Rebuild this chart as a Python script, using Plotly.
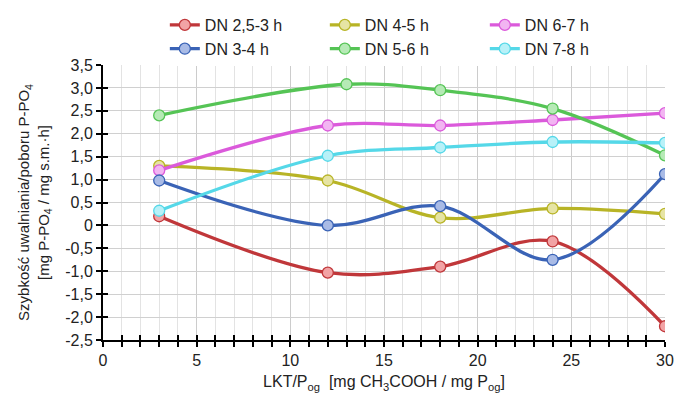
import plotly.graph_objects as go

x_std = [3, 12, 18, 24, 30]
x_green = [3, 13, 18, 24, 30]

names = ["DN 2,5-3 h", "DN 4-5 h", "DN 6-7 h", "DN 3-4 h", "DN 5-6 h", "DN 7-8 h"]
red_vals = [0.2, -1.03, -0.9, -0.35, -2.2]
olive_vals = [1.3, 0.98, 0.17, 0.37, 0.25]
magenta_vals = [1.2, 2.18, 2.18, 2.3, 2.45]
blue_vals = [0.98, 0.0, 0.42, -0.75, 1.12]
green_vals = [2.4, 3.08, 2.95, 2.55, 1.53]
cyan_vals = [0.32, 1.52, 1.7, 1.82, 1.8]

y_ticks = [3.5, 3.0, 2.5, 2.0, 1.5, 1.0, 0.5, 0, -0.5, -1.0, -1.5, -2.0, -2.5]
y_tick_text = ["3,5", "3,0", "2,5", "2,0", "1,5", "1,0", "0,5", "0", "-0,5", "-1,0", "-1,5", "-2,0", "-2,5"]
x_ticks = [0, 5, 10, 15, 20, 25, 30]

series = [
    (names[0], x_std, red_vals, "#c0373a", "#f2a3a5"),
    (names[1], x_std, olive_vals, "#b8b426", "#e6e4a4"),
    (names[2], x_std, magenta_vals, "#db5adb", "#f2b5f2"),
    (names[3], x_std, blue_vals, "#3a63b6", "#a9bbe6"),
    (names[4], x_green, green_vals, "#55c455", "#b6eab6"),
    (names[5], x_std, cyan_vals, "#55d8e8", "#b8f1f8"),
]

fig = go.Figure()
for name, xs, ys, lc, fc in series:
    fig.add_trace(go.Scatter(
        x=xs, y=ys, name=name, mode="lines+markers",
        line=dict(color=lc, width=3.3, shape="spline", smoothing=1.0),
        marker=dict(size=11, color=fc, line=dict(color=lc, width=1.3)),
    ))

font = "Liberation Sans, Arial, sans-serif"
fig.update_layout(
    width=676, height=393,
    margin=dict(l=95, r=19, t=57, b=61, autoexpand=False),
    paper_bgcolor="white", plot_bgcolor="white",
    font=dict(family=font, size=16, color="#222"),
    showlegend=True,
    legend=dict(
        orientation="h", xref="container", yref="container",
        x=0.232, y=1.0, xanchor="left", yanchor="top",
        entrywidth=115, entrywidthmode="pixels",
        font=dict(family=font, size=16, color="#222"), itemwidth=30,
        tracegroupgap=0,
    ),
    xaxis=dict(
        range=[0, 30], tickvals=x_ticks, ticks="outside", ticklen=5, tickwidth=1.5,
        tickcolor="black", showline=True, linecolor="black", linewidth=2,
        showgrid=True, gridcolor="#cccccc", gridwidth=1, zeroline=False,
        minor=dict(dtick=1, ticks="outside", ticklen=5, tickwidth=1.5, tickcolor="black",
                   showgrid=True, gridcolor="#e3e3e3", gridwidth=1),
        title=dict(text="LKT/P<sub>og</sub>  [mg CH<sub>3</sub>COOH / mg P<sub>og</sub>]",
                   font=dict(size=16), standoff=8),
        tickfont=dict(size=16),
    ),
    yaxis=dict(
        range=[-2.5, 3.5], tickvals=y_ticks, ticktext=y_tick_text, ticks="outside",
        ticklen=5, tickwidth=1.5, tickcolor="black", showline=True, linecolor="black",
        linewidth=2, showgrid=True, gridcolor="#d0d0d0", gridwidth=1, zeroline=False,
        title=dict(text="Szybkość uwalniania/poboru P-PO<sub>4</sub><br>[mg P-PO<sub>4</sub> / mg s.m.·h]",
                   font=dict(size=15), standoff=12),
        tickfont=dict(size=16),
    ),
    xaxis2=dict(overlaying="x", matches="x", range=[0, 30], tickvals=x_ticks, ticks="inside",
                ticklen=5, tickwidth=1.5, tickcolor="black", showticklabels=False,
                showgrid=False, zeroline=False, side="bottom",
                minor=dict(dtick=1, ticks="inside", ticklen=5, tickwidth=1.5, tickcolor="black")),
    yaxis2=dict(overlaying="y", range=[-2.5, 3.5], tickvals=y_ticks, ticks="inside",
                ticklen=5, tickwidth=1.5, tickcolor="black", showticklabels=False,
                showgrid=False, zeroline=False, side="left"),
)
fig.add_trace(go.Scatter(x=[None], y=[None], xaxis="x2", yaxis="y2", showlegend=False, hoverinfo="skip"))
fig.write_html("out.html")
